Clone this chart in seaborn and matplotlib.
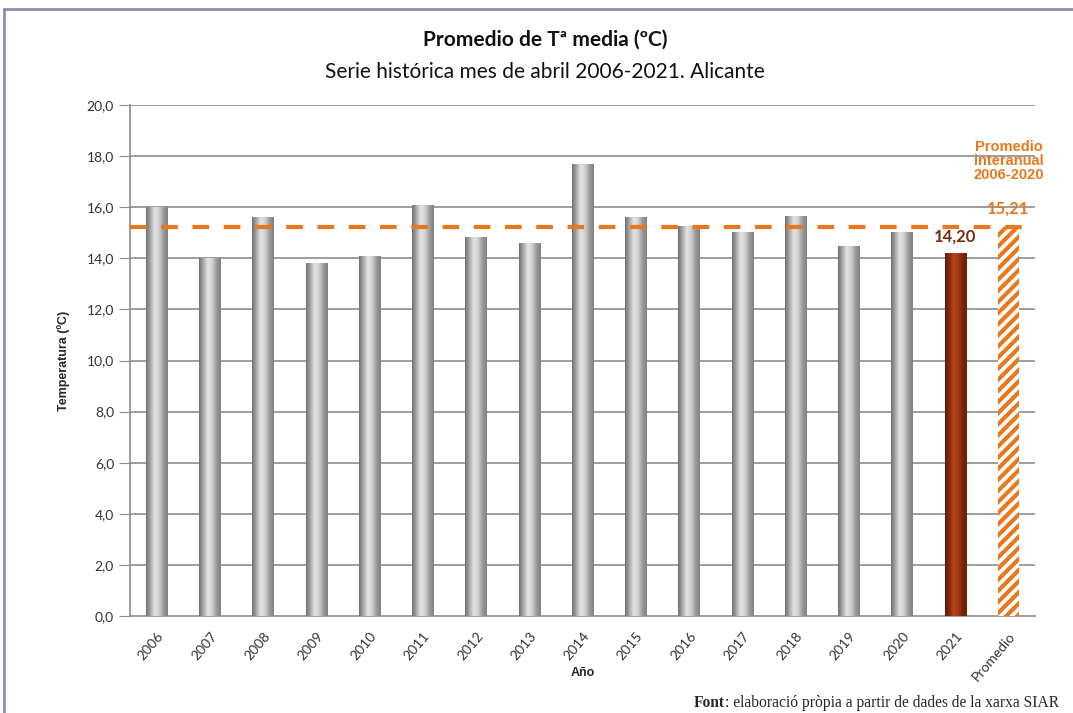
import numpy as np
import pandas as pd
import matplotlib.pyplot as plt
import seaborn as sns
from matplotlib.colors import LinearSegmentedColormap
from matplotlib.lines import Line2D

years = ["2006", "2007", "2008", "2009", "2010", "2011", "2012", "2013",
         "2014", "2015", "2016", "2017", "2018", "2019", "2020", "2021", "Promedio"]
temps = [16.0, 14.0, 15.6, 13.8, 14.1, 16.1, 14.85, 14.6,
         17.7, 15.6, 15.25, 15.03, 15.65, 14.48, 15.02, 14.20, 15.21]
promedio = 15.21
yticks = [0, 2, 4, 6, 8, 10, 12, 14, 16, 18, 20]

orange = "#E8781E"
brown = "#7A2A12"

sns.set_style("white")
plt.rcParams["font.family"] = ["Lato", "DejaVu Sans"]
plt.rcParams["hatch.linewidth"] = 3.0

df = pd.DataFrame({"Año": years, "Temp": temps})

fig = plt.figure(figsize=(10.73, 7.13), dpi=100)
ax = fig.add_axes([130 / 1073, 1 - 616 / 713, 905 / 1073, 511 / 713])

sns.barplot(data=df, x="Año", y="Temp", color="#bbbbbb", width=0.4,
            saturation=1, ax=ax, zorder=3)

gray_cmap = LinearSegmentedColormap.from_list(
    "g", ["#6e6e6e", "#a8a8a8", "#e4e4e4", "#d0d0d0", "#9a9a9a", "#808080"])
red_cmap = LinearSegmentedColormap.from_list(
    "r", ["#5c1a05", "#8a2a0a", "#b8451a", "#a33a12", "#7a2408", "#6a1f06"])
grad = np.linspace(0, 1, 256).reshape(1, -1)

for i, p in enumerate(ax.patches):
    x0, w, h = p.get_x(), p.get_width(), p.get_height()
    if years[i] == "Promedio":
        p.set_facecolor("white")
        p.set_edgecolor(orange)
        p.set_hatch("///")
        p.set_linewidth(0)
        continue
    cmap = red_cmap if years[i] == "2021" else gray_cmap
    p.set_facecolor("none")
    p.set_edgecolor("none")
    im = ax.imshow(grad, cmap=cmap, aspect="auto", extent=(x0, x0 + w, 0, h),
                   zorder=3, interpolation="bicubic")
    im.set_clip_path(p)

ax.set_xlim(-0.5, 16.5)
ax.set_ylim(0, 20)
ax.set_yticks(yticks)
ax.set_yticklabels([f"{v:.1f}".replace(".", ",") for v in yticks], fontsize=10, color="#333333")
for v in yticks[1:]:
    ax.axhline(v, color="#8c8c8c", lw=1.2, zorder=1)

ax.hlines(promedio, -0.5, 16.3, color=orange, lw=3, linestyles=(0, (4, 3.5)), zorder=5)

ax.set_xticks(range(len(years)))
ax.set_xticklabels(years, rotation=50, ha="right", rotation_mode="anchor",
                   fontsize=10, color="#333333")
ax.set_xticks(np.arange(-0.5, 17, 1), minor=True)
ax.tick_params(axis="x", which="major", length=0, pad=10)
ax.tick_params(axis="x", which="minor", length=6, color="#8c8c8c", direction="out")
ax.tick_params(axis="y", length=8, color="#8c8c8c", direction="out", left=True)

sns.despine(ax=ax, top=True, right=True)
for s in ["left", "bottom"]:
    ax.spines[s].set_color("#8c8c8c")
    ax.spines[s].set_linewidth(1.2)

ax.set_xlabel("Año", fontsize=9, fontweight="bold", family="Liberation Sans")
ax.xaxis.set_label_coords(0.5, -(673 - 616) / 511)
ax.xaxis.label.set_va("center")
ax.set_ylabel("Temperatura (ºC)", fontsize=9, fontweight="bold", family="Liberation Sans",
              labelpad=12)

i2021 = years.index("2021")
ax.annotate(f"{temps[i2021]:.2f}".replace(".", ","), (i2021, temps[i2021]),
            xytext=(0, 6), textcoords="offset points", ha="center", va="bottom",
            fontsize=12, fontweight="bold", color=brown)
ip = years.index("Promedio")
ax.annotate(f"{promedio:.2f}".replace(".", ","), (ip, promedio),
            xytext=(0, 8), textcoords="offset points", ha="center", va="bottom",
            fontsize=12, fontweight="bold", color=orange)
ax.annotate("Promedio\ninteranual\n2006-2020", (ip, promedio),
            xytext=(0, 33), textcoords="offset points", ha="center", va="bottom",
            fontsize=10.5, fontweight="bold", family="Liberation Sans", color=orange,
            linespacing=1.0)

fig.text(545 / 1073, 1 - 40 / 713, "Promedio de Tª media (ºC)", ha="center", va="center",
         fontsize=15, fontweight="bold", color="#111111")
fig.text(545 / 1073, 1 - 72 / 713, "Serie histórica mes de abril 2006-2021. Alicante",
         ha="center", va="center", fontsize=15, color="#111111")

t = fig.text(694 / 1073, 1 - 707 / 713, "Font", fontsize=11.2, fontweight="bold",
             family="Liberation Serif", va="baseline")
ax.annotate(": elaboració pròpia a partir de dades de la xarxa SIAR", xy=(1, 0),
            xycoords=t, va="bottom", fontsize=11.2, family="Liberation Serif",
            annotation_clip=False)

border = "#9a88b0"
fig.add_artist(Line2D([4 / 1073, 1], [1 - 9 / 713, 1 - 9 / 713], color=border, lw=2,
                      transform=fig.transFigure))
fig.add_artist(Line2D([4 / 1073, 4 / 1073], [0, 1 - 9 / 713], color=border, lw=2,
                      transform=fig.transFigure))

fig.savefig("out.png", dpi=100)
